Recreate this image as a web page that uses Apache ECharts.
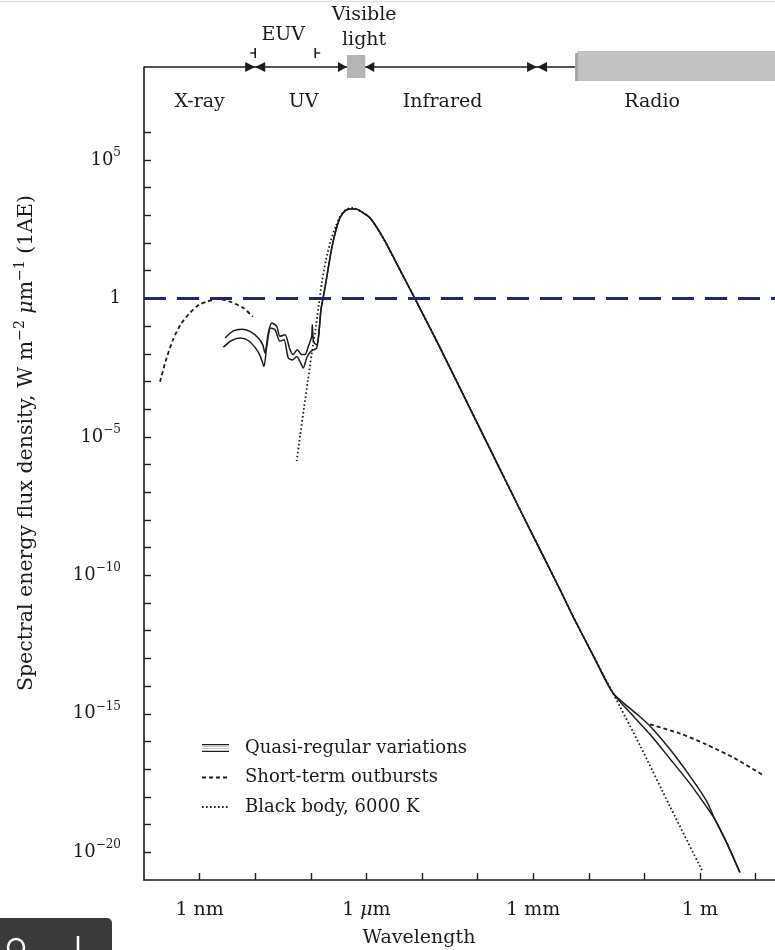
<!DOCTYPE html>
<html><head><meta charset="utf-8">
<script src="https://cdn.jsdelivr.net/npm/echarts@6/dist/echarts.min.js"></script>
<style>html,body{margin:0;padding:0;background:#fff}#c{width:775px;height:950px}</style>
</head><body><div id="c"></div>
<script>
// ---- data: [log10(wavelength / m), log10(flux / W m^-2 um^-1)] ----
const quasiUpperUV = [[-8.543,-1.43],[-8.394,-1.17],[-8.243,-1.11],[-8.094,-1.19],[-7.944,-1.43],[-7.865,-1.67],[-7.824,-1.97],[-7.764,-1.25],[-7.703,-0.89],[-7.613,-1.01],[-7.554,-1.37],[-7.464,-1.31],[-7.374,-1.85],[-7.315,-2.03],[-7.243,-1.85],[-7.164,-2.03],[-7.104,-2.03],[-7.045,-1.74],[-6.984,-1.37],[-6.973,-0.95],[-6.951,-1.57],[-6.894,-1.67]];
const quasiLowerUV = [[-8.574,-1.76],[-8.423,-1.52],[-8.273,-1.43],[-8.124,-1.52],[-7.973,-1.85],[-7.901,-2.12],[-7.842,-2.46],[-7.793,-1.74],[-7.721,-1.07],[-7.644,-1.13],[-7.554,-1.55],[-7.482,-1.49],[-7.405,-2.15],[-7.326,-2.22],[-7.254,-2.10],[-7.194,-2.28],[-7.135,-2.51],[-7.074,-2.15],[-7.002,-1.92],[-6.942,-1.85],[-6.894,-1.79]];
const mainCurve = [[-6.861,-1.39],[-6.817,-0.41],[-6.781,-0.01],[-6.745,0.38],[-6.691,1.03],[-6.619,1.86],[-6.547,2.47],[-6.475,2.91],[-6.385,3.16],[-6.295,3.23],[-6.187,3.23],[-6.079,3.12],[-5.935,2.91],[-5.701,2.19],[-5.396,1.03],[-5.126,-0.01],[-4.676,-1.78],[-3.957,-4.70],[-3.237,-7.63],[-2.518,-10.51],[-2.284,-11.48],[-1.924,-12.88]];
const radioUpper = [[-1.565,-14.25],[-1.139,-15.00],[-0.899,-15.44],[-0.540,-16.28],[-0.180,-17.25],[0.120,-18.15],[0.270,-18.81],[0.480,-19.65],[0.719,-20.73]];
const radioLower = [[-1.565,-14.25],[-1.200,-15.08],[-0.899,-15.74],[-0.540,-16.62],[-0.180,-17.52],[0.120,-18.36],[0.270,-18.81],[0.480,-19.65],[0.719,-20.73]];
const outburstXray = [[-9.712,-3.01],[-9.604,-2.22],[-9.478,-1.49],[-9.335,-0.92],[-9.173,-0.52],[-9.011,-0.23],[-8.867,-0.12],[-8.687,-0.01],[-8.453,-0.12],[-8.219,-0.34],[-8.040,-0.66]];
const outburstRadio = [[-0.899,-15.38],[-0.360,-15.71],[0.108,-16.10],[0.629,-16.61],[1.115,-17.19]];
const blackBodyRise = [[-7.254,-5.88],[-7.194,-4.99],[-7.122,-3.95],[-7.050,-2.94],[-6.978,-1.93],[-6.906,-0.99],[-6.853,-0.19],[-6.799,0.60],[-6.727,1.39],[-6.637,2.11],[-6.547,2.62],[-6.457,3.02],[-6.367,3.20],[-6.259,3.27]];
const blackBodyTail = [[-6.187,3.23],[-6.079,3.12],[-5.935,2.91],[-5.701,2.19],[-5.396,1.03],[-5.126,-0.01],[-4.676,-1.78],[-3.957,-4.70],[-3.237,-7.63],[-2.518,-10.51],[-2.284,-11.48],[-1.924,-12.88],[-1.565,-14.25],[-1.079,-16.14],[-0.540,-18.34],[0.054,-20.72]];
const referenceLevel = 0; // 1 W m^-2 um^-1

// axes
const yTickExp = [-20,-19,-18,-17,-16,-15,-14,-13,-12,-11,-10,-9,-8,-7,-6,-5,-4,-3,-2,-1,0,1,2,3,4,5,6];
const yLabelExp = [-20,-15,-10,-5,0,5];
const xTickLog = [-9,-8,-7,-6,-5,-4,-3,-2,-1,0,1];
const xLabelLog = [-9,-6,-3,0];
const xLabelText = ['1 nm','1 {i|μ}m','1 mm','1 m'];

// spectral band bar
const bandNames = ['X-ray','UV','Infrared','Radio'];
const bandNameLog = [-9.0,-7.13,-4.63,-0.86];
const bowTieLog = [-8.0,-2.93];
const euvRangeLog = [-8.0,-6.92];
const visibleRangeLog = [-6.35,-6.02];
const radioBandStartLog = -2.21;

const FONT = 'DejaVu Serif';
const INK = '#1c1c1c';

function renderBar(params, api) {
  const cs = params.coordSys;
  const t = cs.y, right = cs.x + cs.width;
  const px = v => api.coord([v, 0])[0];
  const ch = [];
  const lineSt = {stroke: INK, lineWidth: 1.6};
  const rs = px(radioBandStartLog);
  ch.push({type:'line', shape:{x1:cs.x, y1:t, x2:rs, y2:t}, style:lineSt});
  ch.push({type:'rect', shape:{x:rs, y:t-16, width:right-rs, height:30}, style:{fill:'#c2c2c2'}});
  ch.push({type:'rect', shape:{x:rs-2, y:t-14, width:3, height:28}, style:{fill:'#a3a3a3'}});
  bowTieLog.forEach(v => {
    const p = px(v);
    ch.push({type:'polygon', shape:{points:[[p-10,t-5],[p-10,t+5],[p,t]]}, style:{fill:INK}});
    ch.push({type:'polygon', shape:{points:[[p+10,t-5],[p+10,t+5],[p,t]]}, style:{fill:INK}});
  });
  const v0 = px(visibleRangeLog[0]), v1 = px(visibleRangeLog[1]);
  ch.push({type:'rect', shape:{x:v0, y:t-12, width:v1-v0, height:23}, style:{fill:'#b4b4b4'}});
  ch.push({type:'polygon', shape:{points:[[v0-9,t-5],[v0-9,t+5],[v0,t]]}, style:{fill:INK}});
  ch.push({type:'polygon', shape:{points:[[v1+9,t-5],[v1+9,t+5],[v1,t]]}, style:{fill:INK}});
  const e0 = px(euvRangeLog[0]), e1 = px(euvRangeLog[1]);
  ch.push({type:'line', shape:{x1:e0, y1:t-19, x2:e0, y2:t-9}, style:{stroke:INK, lineWidth:1.6}});
  ch.push({type:'line', shape:{x1:e0-5, y1:t-14, x2:e0, y2:t-14}, style:{stroke:INK, lineWidth:1.4}});
  ch.push({type:'line', shape:{x1:e1, y1:t-19, x2:e1, y2:t-9}, style:{stroke:INK, lineWidth:1.6}});
  ch.push({type:'line', shape:{x1:e1, y1:t-14, x2:e1+5, y2:t-14}, style:{stroke:INK, lineWidth:1.4}});
  const txt = (s, x, y) => ({type:'text', x:x, y:y, style:{text:s, fontSize:19, fontFamily:FONT, fill:INK, align:'center', verticalAlign:'middle'}});
  bandNames.forEach((n, i) => ch.push(txt(n, px(bandNameLog[i]), t + 35)));
  ch.push(txt('EUV', (e0 + e1) / 2 - 2, t - 32));
  ch.push(txt('Visible', (v0 + v1) / 2 + 8, t - 52));
  ch.push(txt('light', (v0 + v1) / 2 + 8, t - 27));
  return {type:'group', children: ch};
}

const lineBase = {type:'line', symbol:'circle', symbolSize:0, showSymbol:false, animation:false, silent:true, smooth:0.25,
  itemStyle:{color:INK}};
const hiddenSymbol = {opacity:0, color:'transparent', borderColor:'transparent', borderWidth:0};

const chart = echarts.init(document.getElementById('c'), null, {renderer:'canvas'});
chart.setOption({
  animation: false,
  backgroundColor: '#fff',
  grid: {left:144, right:0, top:67, bottom:70},
  xAxis: {
    type:'value', min:-10, max:1.35, interval:1,
    axisLine:{onZero:false, lineStyle:{color:INK, width:1.6}},
    axisTick:{inside:true, length:7, customValues:xTickLog, lineStyle:{color:INK, width:1.4}},
    axisLabel:{customValues:xLabelLog, margin:21, fontSize:19, fontFamily:FONT, color:INK,
      formatter: v => { const i = xLabelLog.indexOf(Math.round(v)); return i >= 0 ? xLabelText[i] : ''; },
      rich:{i:{fontSize:19, fontFamily:FONT, fontStyle:'italic', color:INK}}},
    splitLine:{show:false}
  },
  yAxis: {
    type:'value', min:-21, max:8.355, interval:1,
    axisLine:{onZero:false, lineStyle:{color:INK, width:1.6}},
    axisTick:{inside:true, length:7, customValues:yTickExp, lineStyle:{color:INK, width:1.4}},
    axisLabel:{customValues:yLabelExp, margin:23, color:INK,
      formatter: v => v === 0 ? '{b|1}' : '{b|10}{s|' + (v < 0 ? '−' + (-v) : v) + '}',
      rich:{b:{fontSize:18, fontFamily:FONT, color:INK, lineHeight:26},
            s:{fontSize:12, fontFamily:FONT, color:INK, lineHeight:12, verticalAlign:'top'}}},
    splitLine:{show:false}
  },
  legend: {
    left:196, top:733, orient:'vertical', itemWidth:27, itemHeight:12, itemGap:9.5,
    textStyle:{fontFamily:FONT, fontSize:18, color:INK, lineHeight:20, padding:[0,0,0,11]},
    selectedMode:false,
    data:[
      {name:'Quasi-regular variations', icon:'path://M0,0L40,0L40,2L0,2Z M0,4L40,4L40,4.6L0,4.6Z M0,7L40,7L40,7.6L0,7.6Z M0,10L40,10L40,12L0,12Z'},
      {name:'Short-term outbursts', itemStyle:hiddenSymbol},
      {name:'Black body, 6000 K', itemStyle:hiddenSymbol}
    ]
  },
  series: [
    Object.assign({}, lineBase, {name:'Quasi-regular variations', data:quasiUpperUV.concat(mainCurve, radioUpper),
      lineStyle:{color:INK, width:1.5},
      markLine:{silent:true, symbol:['none','none'], animation:false, label:{show:false},
        lineStyle:{color:'#1f2a6b', width:3, type:[22,11]}, data:[{yAxis:referenceLevel}]}}),
    Object.assign({}, lineBase, {name:'Quasi-regular variations', data:quasiLowerUV.concat(mainCurve, radioLower),
      lineStyle:{color:INK, width:1.5}}),
    Object.assign({}, lineBase, {name:'Short-term outbursts', data:outburstXray,
      lineStyle:{color:INK, width:1.8, type:[4,3]}}),
    Object.assign({}, lineBase, {name:'Short-term outbursts', data:outburstRadio,
      lineStyle:{color:INK, width:1.8, type:[4,3]}}),
    Object.assign({}, lineBase, {name:'Black body, 6000 K', data:blackBodyRise.concat(blackBodyTail),
      lineStyle:{color:INK, width:1.8, type:[1.6,2.4]}}),
    {type:'custom', name:'bands', clip:false, silent:true, animation:false, data:[[0,0]], renderItem:renderBar, z:5}
  ],
  graphic: [
    {type:'text', x:27, y:443, rotation:Math.PI/2, silent:true,
      style:{text:'Spectral energy flux density, W m{s|−2} {i|μ}m{s|−1} (1AE)', fontSize:20.5, fontFamily:FONT, fill:INK,
        align:'center', verticalAlign:'middle',
        rich:{s:{fontSize:14, fontFamily:FONT, fill:INK, lineHeight:14, verticalAlign:'top'},
              i:{fontSize:20.5, fontFamily:FONT, fill:INK, fontStyle:'italic', lineHeight:28}}}},
    {type:'text', x:419, y:938, silent:true,
      style:{text:'Wavelength', fontSize:19, fontFamily:FONT, fill:INK, align:'center', verticalAlign:'middle'}},
    {type:'line', silent:true, shape:{x1:0, y1:1.5, x2:775, y2:1.5}, style:{stroke:'#e2dfda', lineWidth:1.5}},
    {type:'rect', silent:true, shape:{x:0, y:918, width:112, height:40, r:[0,5,0,0]}, style:{fill:'#3b3b3b'}},
    {type:'circle', silent:true, shape:{cx:16, cy:947, r:8}, style:{fill:'none', stroke:'#fff', lineWidth:2.5}},
    {type:'line', silent:true, shape:{x1:78, y1:936, x2:78, y2:950}, style:{stroke:'#fff', lineWidth:2.5}}
  ]
});
</script></body></html>
